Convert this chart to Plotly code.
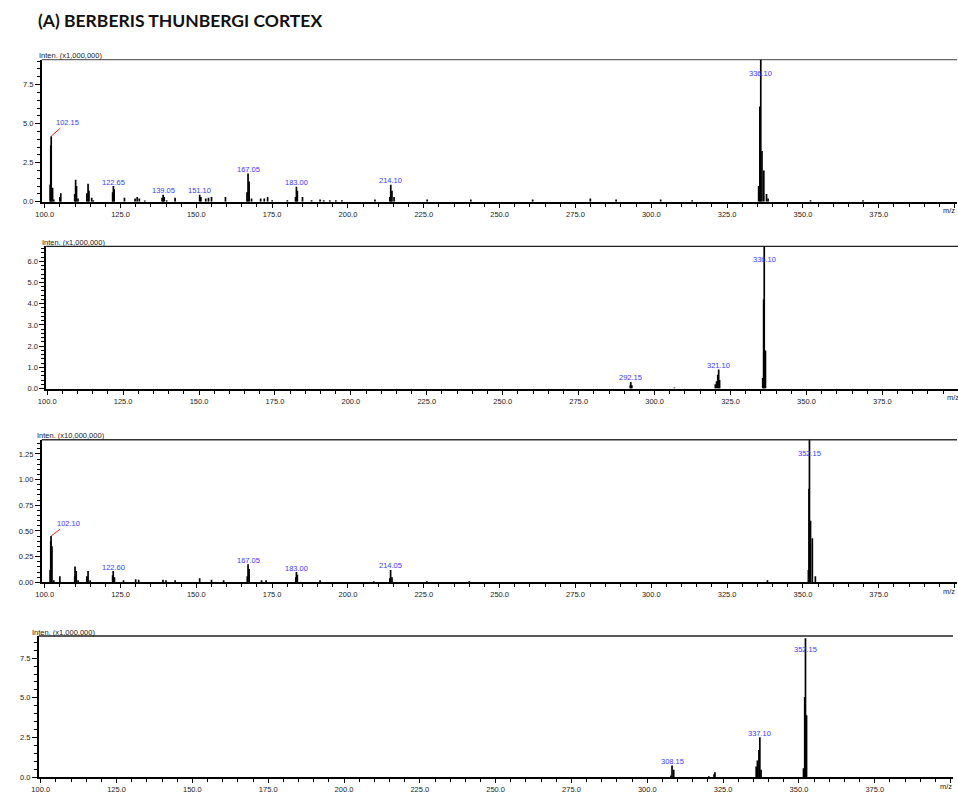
import plotly.graph_objects as go

# ---------------- data (m/z, intensity in axis units) ----------------
# Panel 1: intensity x1,000,000
p1_mz = [101.8, 102.0, 102.15, 102.6, 103.0, 105.0, 105.3, 109.9, 110.2, 110.5, 111.0,
         113.9, 114.3, 114.6, 115.5, 116.0, 122.4, 122.65, 122.9, 126.3, 129.8, 130.5,
         131.2, 133.0, 138.7, 139.05, 139.4, 140.2, 143.0, 151.1, 151.5, 153.1, 154.0,
         155.0, 159.6, 166.7, 167.05, 167.4, 168.2, 171.2, 172.4, 173.5, 175.0, 180.0,
         182.7, 183.0, 183.3, 185.0, 188.0, 190.8, 192.0, 194.0, 196.0, 198.0, 208.9,
         213.8, 214.1, 214.5, 215.2, 226.1, 240.5, 260.9, 279.9, 288.4, 303.1, 313.5,
         335.4, 335.8, 336.1, 336.5, 337.1, 338.0, 338.5, 352.5, 369.8]
p1_int = [1.1, 3.6, 4.2, 0.9, 0.15, 0.3, 0.55, 0.5, 1.4, 1.0, 0.2,
          0.55, 1.15, 0.7, 0.25, 0.1, 0.6, 1.0, 0.8, 0.25, 0.2, 0.3,
          0.2, 0.08, 0.25, 0.45, 0.3, 0.1, 0.25, 0.45, 0.3, 0.2, 0.25,
          0.3, 0.3, 0.6, 1.8, 1.3, 0.2, 0.2, 0.2, 0.3, 0.1, 0.1,
          0.3, 0.96, 0.7, 0.3, 0.1, 0.15, 0.1, 0.1, 0.1, 0.1, 0.15,
          0.3, 1.08, 0.7, 0.3, 0.15, 0.15, 0.15, 0.2, 0.15, 0.15, 0.1,
          1.0, 6.1, 9.1, 3.25, 2.0, 0.5, 0.2, 0.1, 0.1]
p1_labels = ["102.15", "122.65", "139.05", "151.10", "167.05", "183.00", "214.10", "336.10"]

# Panel 2: intensity x1,000,000
p2_mz = [292.0, 292.15, 292.5, 306.5, 320.0, 320.4, 320.8, 321.1, 321.4,
         335.6, 335.9, 336.1, 336.5]
p2_int = [0.15, 0.31, 0.15, 0.05, 0.2, 0.35, 0.65, 0.9, 0.4,
          0.5, 4.2, 6.7, 1.8]
p2_labels = ["292.15", "321.10", "336.10"]

# Panel 3: intensity x10,000,000
p3_mz = [101.8, 102.0, 102.1, 102.4, 103.0, 105.0, 109.9, 110.0, 110.4, 111.0,
         113.9, 114.3, 115.0, 122.4, 122.6, 123.0, 126.0, 130.0, 131.0, 139.0,
         140.0, 143.0, 151.1, 155.0, 159.0, 166.8, 167.05, 167.4, 171.5, 173.0,
         182.8, 183.0, 183.3, 190.8, 208.5, 213.8, 214.05, 214.5, 226.0, 240.0,
         338.3, 351.8, 352.0, 352.15, 352.5, 353.1, 354.1]
p3_int = [0.12, 0.40, 0.45, 0.35, 0.02, 0.06, 0.06, 0.155, 0.11, 0.02,
          0.06, 0.11, 0.02, 0.07, 0.11, 0.05, 0.02, 0.03, 0.025, 0.025,
          0.02, 0.02, 0.04, 0.025, 0.02, 0.06, 0.177, 0.13, 0.02, 0.02,
          0.05, 0.10, 0.075, 0.02, 0.01, 0.04, 0.12, 0.05, 0.01, 0.01,
          0.02, 0.12, 0.91, 1.39, 0.6, 0.43, 0.06]
p3_labels = ["102.10", "122.60", "167.05", "183.00", "214.05", "352.15"]

# Panel 4: intensity x1,000,000
p4_mz = [307.8, 308.15, 308.7, 320.3, 322.0, 322.3, 335.9, 336.3, 336.8, 337.1,
         337.5, 351.5, 351.9, 352.15, 352.5]
p4_int = [0.12, 0.75, 0.48, 0.08, 0.2, 0.33, 0.69, 1.06, 1.73, 2.52,
          0.48, 0.58, 5.06, 8.75, 3.9]
p4_labels = ["308.15", "337.10", "352.15"]

x_tick_vals = [100, 125, 150, 175, 200, 225, 250, 275, 300, 325, 350, 375, 400]
x_tick_text = ["100.0", "125.0", "150.0", "175.0", "200.0", "225.0", "250.0",
               "275.0", "300.0", "325.0", "350.0", "375.0", ""]
y_titles = ["Inten. (x1,000,000)", "Inten. (x1,000,000)", "Inten. (x10,000,000)", "Inten. (x1,000,000)"]
y_tick_vals = [[0, 2.5, 5, 7.5], [0, 1, 2, 3, 4, 5, 6], [0, 0.25, 0.5, 0.75, 1.0, 1.25], [0, 2.5, 5, 7.5]]
y_tick_text = [["0.0", "2.5", "5.0", "7.5"],
               ["0.0", "1.0", "2.0", "3.0", "4.0", "5.0", "6.0"],
               ["0.00", "0.25", "0.50", "0.75", "1.00", "1.25"],
               ["0.0", "2.5", "5.0", "7.5"]]
y_minor = [0.5, 0.2, 0.05, 0.5]
title_text = "(A) BERBERIS THUNBERGI CORTEX"

# ---------------- layout geometry (pixels) ----------------
W, H = 958, 798
panels = [
    dict(mz=p1_mz, it=p1_int, labels=p1_labels, px=(34, 957), py=(60, 203), xr=(99.02, 400.8), yr=9.1,
         ytitle=(29, 56), mzlab=957, lead=(16, -14), frame="#666"),
    dict(mz=p2_mz, it=p2_int, labels=p2_labels, px=(38.5, 958), py=(248, 391), xr=(99.67, 399.9), yr=6.7,
         ytitle=(32, 244), mzlab=961, lead=None, frame="#222"),
    dict(mz=p3_mz, it=p3_int, labels=p3_labels, px=(34, 957), py=(442.5, 586), xr=(99.02, 400.8), yr=1.388,
         ytitle=(27, 438.5), mzlab=957, lead=(17, -13), frame="#333"),
    dict(mz=p4_mz, it=p4_int, labels=p4_labels, px=(31, 953), py=(640, 782.3), xr=(99.35, 400.8), yr=8.89,
         ytitle=(22.5, 636), mzlab=954, lead=None, frame="#222"),
]

fig = go.Figure()
annotations = []
shapes = []
lay = {}
font_small = dict(family="Liberation Sans, Arial, sans-serif", size=7.5, color="#222")
blue = "#3a3aff"

for i, p in enumerate(panels, start=1):
    xa = "x" if i == 1 else f"x{i}"
    ya = "y" if i == 1 else f"y{i}"
    # stick spectrum
    xs, ys = [], []
    for m, v in zip(p["mz"], p["it"]):
        xs += [m, m, None]
        ys += [0, v, None]
    fig.add_trace(go.Scatter(x=xs, y=ys, mode="lines", line=dict(color="black", width=1.7),
                             xaxis=xa, yaxis=ya, hoverinfo="skip", showlegend=False, cliponaxis=True))
    x0, x1 = p["px"]
    yt, yb = p["py"]
    lay["xaxis" if i == 1 else f"xaxis{i}"] = dict(
        domain=[x0 / W, min(x1 / W, 1.0)], anchor=ya, range=list(p["xr"]),
        tickmode="array", tickvals=x_tick_vals, ticktext=x_tick_text,
        ticks="outside", ticklen=4, tickwidth=1, tickcolor="black",
        minor=dict(tickmode="linear", tick0=100, dtick=5, ticks="outside", ticklen=3, tickcolor="black"),
        showline=True, linewidth=2, linecolor="black", showgrid=False, zeroline=False,
        tickfont=font_small, fixedrange=True)
    lay["yaxis" if i == 1 else f"yaxis{i}"] = dict(
        domain=[1 - yb / H, 1 - yt / H], anchor=xa, range=[0, p["yr"]],
        tickmode="array", tickvals=y_tick_vals[i - 1], ticktext=y_tick_text[i - 1],
        ticks="outside", ticklen=5, tickwidth=1, tickcolor="black",
        minor=dict(tickmode="linear", tick0=0, dtick=y_minor[i - 1], ticks="outside", ticklen=3, tickcolor="black"),
        showline=True, linewidth=1.5, linecolor="black", showgrid=False, zeroline=False,
        tickfont=font_small, fixedrange=True)
    # frame top
    shapes.append(dict(type="line", xref=f"{xa} domain", yref=f"{ya} domain", x0=0, x1=1, y0=1, y1=1,
                       line=dict(color=p["frame"], width=1.3), layer="below"))
    # y title
    tx, ty = p["ytitle"]
    annotations.append(dict(text=y_titles[i - 1], xref="paper", yref="paper", x=tx / W, y=1 - ty / H,
                            xanchor="left", yanchor="middle", showarrow=False, font=font_small))
    # m/z label
    annotations.append(dict(text="m/z", xref="paper", yref="paper", x=p["mzlab"] / W, y=1 - (yb + 9) / H,
                            xanchor="right", yanchor="middle", showarrow=False, font=font_small))
    # peak labels
    for k, lab in enumerate(p["labels"]):
        lm = float(lab)
        # height of the tallest stick near the labelled m/z
        h = max(v for m, v in zip(p["mz"], p["it"]) if abs(m - lm) <= 0.6)
        lab_font = dict(family=font_small["family"], size=7.5, color=blue)
        if k == 0 and p["lead"] is not None:
            annotations.append(dict(text=lab, x=lm, y=h, xref=xa, yref=ya, showarrow=True,
                                    arrowhead=0, arrowwidth=1, arrowcolor="#ff2020",
                                    ax=p["lead"][0], ay=p["lead"][1], standoff=0, font=lab_font))
        elif h >= 0.97 * p["yr"]:
            annotations.append(dict(text=lab, x=lm, y=p["yr"], xref=xa, yref=ya, showarrow=False,
                                    yanchor="middle", yshift=-13.5, font=lab_font))
        else:
            annotations.append(dict(text=lab, x=lm, y=h, xref=xa, yref=ya, showarrow=False,
                                    yanchor="middle", yshift=4, font=lab_font))

annotations.append(dict(text="<b>" + title_text + "</b>", xref="paper", yref="paper", x=28 / W, y=1 - 21 / H,
                        xanchor="left", yanchor="middle", showarrow=False,
                        font=dict(family="Lato, Open Sans, sans-serif", size=17.5, color="#111")))

fig.update_layout(width=W, height=H, margin=dict(l=0, r=0, t=0, b=0),
                  paper_bgcolor="white", plot_bgcolor="white", showlegend=False,
                  annotations=annotations, shapes=shapes, **lay)
fig.write_html("out.html")
